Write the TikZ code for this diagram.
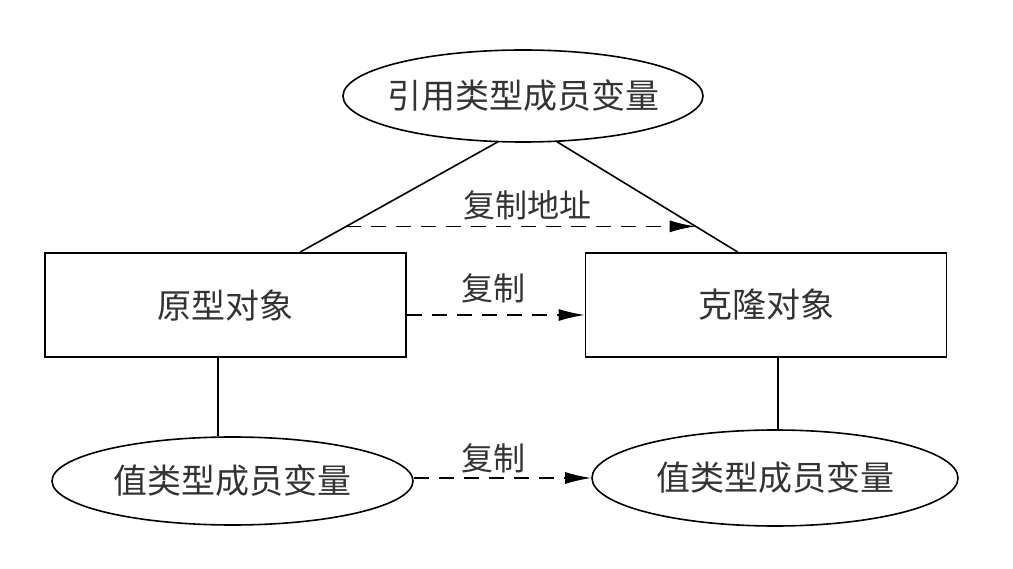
\documentclass[tikz,border=0pt]{standalone}
\usepackage{fontspec}
\setmainfont{Noto Sans CJK SC}
\usetikzlibrary{shapes.geometric,arrows.meta,calc}
\begin{document}
\begin{tikzpicture}[x=1pt,y=1pt,
  every node/.style={font=\fontsize{34}{38}\selectfont, text=black!80},
  ell/.style={draw, ellipse, inner sep=0pt, line width=1.6pt},
  boxn/.style={draw, rectangle, inner sep=0pt, line width=1.6pt, minimum width=361pt, minimum height=104pt},
  conn/.style={line width=1.6pt},
  dsh/.style={line width=1.6pt, dash pattern=on 15pt off 10pt, -{Latex[length=26pt,width=12pt]}},
  lbl/.style={inner sep=0pt, font=\fontsize{32}{36}\selectfont}
]
\useasboundingbox (0,0) rectangle (1013,-569);
\node[ell, inner xsep=-10pt, minimum width=360pt, minimum height=92pt] (te) at (523,-96) {引用类型成员变量};
\node[boxn] (lr) at (225.5,-305) {原型对象};
\node[boxn] (rr) at (766,-305) {克隆对象};
\node[ell, minimum width=361pt, minimum height=88pt] (bl) at (232.5,-481) {值类型成员变量};
\node[ell, minimum width=366pt, minimum height=96pt] (br) at (775,-478) {值类型成员变量};
\coordinate (la) at ($(te.south)+(-25,1)$);
\coordinate (lb) at ($(lr.north)+(74.5,0)$);
\coordinate (ra) at ($(te.south)+(34,1)$);
\coordinate (rb) at ($(rr.north)+(-28,0)$);
\draw[conn] (la) -- (lb);
\draw[conn] (ra) -- (rb);
\coordinate (da) at ($(la)!0.766!(lb)$);
\coordinate (db) at ($(ra)!0.766!(rb)$);
\draw[dsh] (da) -- (db);
\node[lbl] (l1) at (527,-205) {复制地址};
\draw[dsh] ([yshift=-10pt]lr.east) -- ([yshift=-10pt]rr.west);
\node[lbl] (l2) at (493,-288) {复制};
\coordinate (lv) at ($(lr.south)+(-7.5,0)$);
\draw[conn] (lv) -- (lv |- bl.north);
\coordinate (rv) at ($(rr.south)+(12,0)$);
\draw[conn] (rv) -- (rv |- br.north);
\draw[dsh] ([yshift=3pt]bl.east) -- ([yshift=3pt]bl.east -| br.west);
\node[lbl] (l3) at (493,-458) {复制};
\end{tikzpicture}
\end{document}
